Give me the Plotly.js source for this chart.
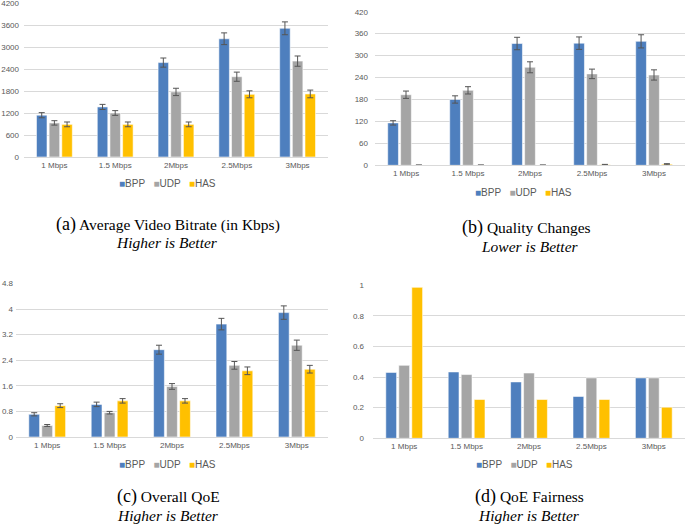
<!DOCTYPE html>
<html>
<head>
<meta charset="utf-8">
<script src="https://cdn.plot.ly/plotly-3.0.1.min.js"></script>
<style>html,body{margin:0;padding:0;background:#fff;}#chart{width:685px;height:526px;}</style>
</head>
<body>
<div id="chart"></div>
<script>
// ---- Data ----
const categories = ['1 Mbps', '1.5 Mbps', '2Mbps', '2.5Mbps', '3Mbps'];
const seriesNames = ['BPP', 'UDP', 'HAS'];

// (a) Average Video Bitrate (Kbps)
const bitrateBPP = [1140, 1365, 2575, 3225, 3510];
const bitrateUDP = [930, 1200, 1775, 2190, 2615];
const bitrateHAS = [890, 890, 890, 1710, 1720];
const bitrateErrBPP = [70, 70, 125, 160, 175];
const bitrateErrUDP = [60, 65, 100, 125, 140];
const bitrateErrHAS = [65, 65, 65, 95, 105];

// (b) Quality Changes
const qualityBPP = [116, 180, 333, 334, 339];
const qualityUDP = [193, 205, 268, 250, 247];
const qualityHAS = [0.5, 0.5, 0.5, 1.5, 3];
const qualityErrBPP = [6, 10, 17, 17, 18];
const qualityErrUDP = [10, 10, 15, 13, 14];
const qualityErrHAS = [0, 0, 0, 1, 1.5];

// (c) Overall QoE
const qoeBPP = [0.71, 1.02, 2.73, 3.53, 3.89];
const qoeUDP = [0.36, 0.76, 1.58, 2.24, 2.87];
const qoeHAS = [0.98, 1.13, 1.13, 2.07, 2.12];
const qoeErrBPP = [0.05, 0.07, 0.14, 0.18, 0.21];
const qoeErrUDP = [0.03, 0.04, 0.09, 0.12, 0.16];
const qoeErrHAS = [0.06, 0.07, 0.07, 0.12, 0.12];

// (d) QoE Fairness
const fairBPP = [0.43, 0.433, 0.368, 0.273, 0.394];
const fairUDP = [0.476, 0.416, 0.426, 0.394, 0.394];
const fairHAS = [0.985, 0.253, 0.253, 0.253, 0.203];

// ---- Styles ----
const colors = ['#4e7fbe', '#a5a5a5', '#ffc000'];
const W = 685, H = 526;
const px = x => x / W;
const py = y => 1 - y / H;

const panels = [
  {ax: '', vals: [bitrateBPP, bitrateUDP, bitrateHAS], errs: [bitrateErrBPP, bitrateErrUDP, bitrateErrHAS]},
  {ax: '2', vals: [qualityBPP, qualityUDP, qualityHAS], errs: [qualityErrBPP, qualityErrUDP, qualityErrHAS]},
  {ax: '3', vals: [qoeBPP, qoeUDP, qoeHAS], errs: [qoeErrBPP, qoeErrUDP, qoeErrHAS]},
  {ax: '4', vals: [fairBPP, fairUDP, fairHAS], errs: null}
];

const traces = [];
panels.forEach(p => {
  seriesNames.forEach((name, i) => {
    const t = {
      type: 'bar',
      name: name,
      x: categories,
      y: p.vals[i],
      xaxis: 'x' + p.ax,
      yaxis: 'y' + p.ax,
      marker: {color: colors[i], line: {color: 'rgba(255,255,255,0.7)', width: 0.8}},
      showlegend: false,
      hoverinfo: 'skip'
    };
    if (p.errs) {
      t.error_y = {type: 'data', array: p.errs[i], visible: true, color: '#555555', thickness: 1, width: 3};
    }
    traces.push(t);
  });
});

const tickFont = {family: 'Liberation Sans, Arial, sans-serif', size: 8, color: '#595959'};
function xAxis(domain, anchor) {
  return {domain: domain, anchor: anchor, type: 'category', showgrid: false, zeroline: false,
          showline: true, linecolor: '#d9d9d9', linewidth: 1, ticks: '', tickfont: tickFont,
          fixedrange: true};
}
function yAxis(domain, anchor, range, dtick, fmt, standoff) {
  return {domain: domain, anchor: anchor, range: range, dtick: dtick, tick0: 0, showgrid: true,
          gridcolor: '#d9d9d9', gridwidth: 1, zeroline: false, showline: false, ticks: '',
          tickfont: tickFont, tickformat: fmt, fixedrange: true, ticklabelstandoff: standoff,
          ticklabeloverflow: 'allow'};
}

const capFont = {family: 'Liberation Serif, Times New Roman, serif', size: 15.5, color: '#000'};
function cap(x, y, text, italic) {
  return {xref: 'paper', yref: 'paper', x: px(x), y: py(y), xanchor: 'center', yanchor: 'middle',
          showarrow: false, text: italic ? '<i>' + text + '</i>' : text, font: capFont};
}
function legendAnn(x, y) {
  const parts = seriesNames.map((n, i) =>
    '<span style="color:' + colors[i] + '">■</span>' + n);
  return {xref: 'paper', yref: 'paper', x: px(x), y: py(y), xanchor: 'center', yanchor: 'middle',
          showarrow: false, text: parts.join('&nbsp;&nbsp;&nbsp;'),
          font: {family: 'Liberation Sans, Arial, sans-serif', size: 10, color: '#595959'}};
}

const layout = {
  width: W, height: H,
  margin: {l: 0, r: 0, t: 0, b: 0},
  paper_bgcolor: '#fff', plot_bgcolor: '#fff',
  barmode: 'group', bargap: 0.375, bargroupgap: 0.17,
  showlegend: false,
  xaxis: xAxis([px(24), px(328)], 'y'),
  yaxis: yAxis([py(157), py(2.9)], 'x', [0, 4203], 600, 'd', 4),
  xaxis2: xAxis([px(375), px(685)], 'y2'),
  yaxis2: yAxis([py(165.3), py(11.6)], 'x2', [0, 420.3], 60, 'd', 6),
  xaxis3: xAxis([px(16), px(328)], 'y3'),
  yaxis3: yAxis([py(437), py(283.4)], 'x3', [0, 4.803], 0.8, '', 2),
  xaxis4: xAxis([px(373), px(685)], 'y4'),
  yaxis4: yAxis([py(438.3), py(284.9)], 'x4', [0, 1.001], 0.2, '', 8),
  annotations: [
    legendAnn(167, 183), legendAnn(523, 192), legendAnn(167, 464), legendAnn(524, 464),
    cap(168, 224, '<span style="font-size:18px">(a)</span> Average Video Bitrate (in Kbps)', false),
    cap(167, 242, 'Higher is Better', true),
    cap(526, 228, '<span style="font-size:18px">(b)</span> Quality Changes', false),
    cap(530, 246, 'Lower is Better', true),
    cap(168, 496, '<span style="font-size:18px">(c)</span> Overall QoE', false),
    cap(168, 515, 'Higher is Better', true),
    cap(529, 496, '<span style="font-size:18px">(d)</span> QoE Fairness', false),
    cap(529, 515, 'Higher is Better', true)
  ]
};

Plotly.newPlot('chart', traces, layout, {displayModeBar: false, staticPlot: true});
</script>
</body>
</html>
